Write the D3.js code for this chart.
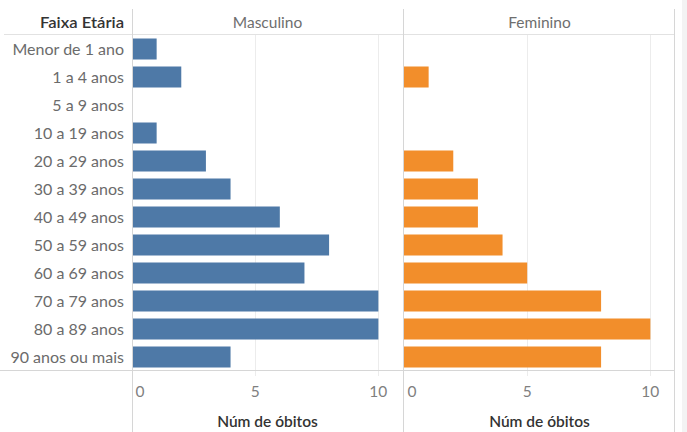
<!DOCTYPE html>
<html><head><meta charset="utf-8">
<script src="https://cdn.jsdelivr.net/npm/d3@7"></script>
<style>body{margin:0;background:#fff}svg{display:block}text{font-family:Lato,"Open Sans",sans-serif}</style>
</head><body><svg id="c" width="687" height="432"></svg>
<script>
const categories = ["Menor de 1 ano","1 a 4 anos","5 a 9 anos","10 a 19 anos","20 a 29 anos","30 a 39 anos","40 a 49 anos","50 a 59 anos","60 a 69 anos","70 a 79 anos","80 a 89 anos","90 anos ou mais"];
const masculino = [1,2,0,1,3,4,6,8,7,10,10,4];
const feminino  = [0,1,0,0,2,3,3,4,5,8,10,8];
const panelNames = ["Masculino","Feminino"];
const tickValues = [0,5,10];
const axisTitle = "Núm de óbitos";
const rowHeader = "Faixa Etária";

const svg = d3.select("#c");
const plotTop = 35, plotBottom = 371, hdrTop = 9;
const panels = [{name:panelNames[0], vals:masculino, x0:132, x1:403, color:"#4e79a7"},
                {name:panelNames[1], vals:feminino, x0:404, x1:675, color:"#f28e2b"}];
const y = d3.scaleBand().domain(categories).range([plotTop, plotBottom]).paddingInner(0.25).paddingOuter(0.125);

svg.append("rect").attr("x",682).attr("y",0).attr("width",5).attr("height",432).attr("fill","#f3f3f3");

panels.forEach(p => {
  const x = d3.scaleLinear().domain([0,11]).range([p.x0, p.x1]);
  const g = svg.append("g");
  tickValues.filter(t=>t>0).forEach(t=>{
    g.append("line").attr("x1",Math.round(x(t))+0.5).attr("x2",Math.round(x(t))+0.5).attr("y1",plotTop).attr("y2",plotBottom+5).attr("stroke","#ececec").attr("stroke-width",1);
  });
  g.selectAll("rect.bar").data(p.vals).join("rect")
    .attr("x", x(0)).attr("y",(d,i)=>y(categories[i]))
    .attr("width", d=>x(d)-x(0)).attr("height", y.bandwidth())
    .attr("fill", p.color);
  g.append("text").attr("x",(p.x0+p.x1)/2).attr("y",28).attr("text-anchor","middle")
    .attr("font-size",15.5).attr("fill","#6e6e6e").text(p.name);
  tickValues.forEach(t=>{
    g.append("text").attr("x", t===0 ? x(0)+3.5 : x(t)).attr("y",397)
      .attr("text-anchor", t===0 ? "start":"middle").attr("font-size",15.5).attr("fill","#7f7f7f").text(t);
  });
  g.append("text").attr("x",(p.x0+p.x1)/2).attr("y",427).attr("text-anchor","middle")
    .attr("font-size",15.5).attr("font-weight",600).attr("fill","#333").text(axisTitle);
});

svg.selectAll("text.cat").data(categories).join("text").attr("class","cat")
  .attr("x",124).attr("y",d=>y(d)+y.bandwidth()/2+6).attr("text-anchor","end")
  .attr("font-size",16).attr("fill","#6b6b6b").text(d=>d);
svg.append("text").attr("x",124).attr("y",28).attr("text-anchor","end")
  .attr("font-size",14.5).attr("font-weight",600).attr("fill","#333")
  .attr("textLength",84).attr("lengthAdjust","spacingAndGlyphs").text(rowHeader);

const lc = "#d6d6d6";
svg.append("line").attr("x1",4).attr("x2",675).attr("y1",34.5).attr("y2",34.5).attr("stroke","#e2e2e2");
svg.append("line").attr("x1",0).attr("x2",675).attr("y1",370.5).attr("y2",370.5).attr("stroke",lc);
[132.5,403.5,674.5].forEach(xx=>{
  svg.append("line").attr("x1",xx).attr("x2",xx).attr("y1",hdrTop).attr("y2",432).attr("stroke",lc);
});
</script></body></html>
